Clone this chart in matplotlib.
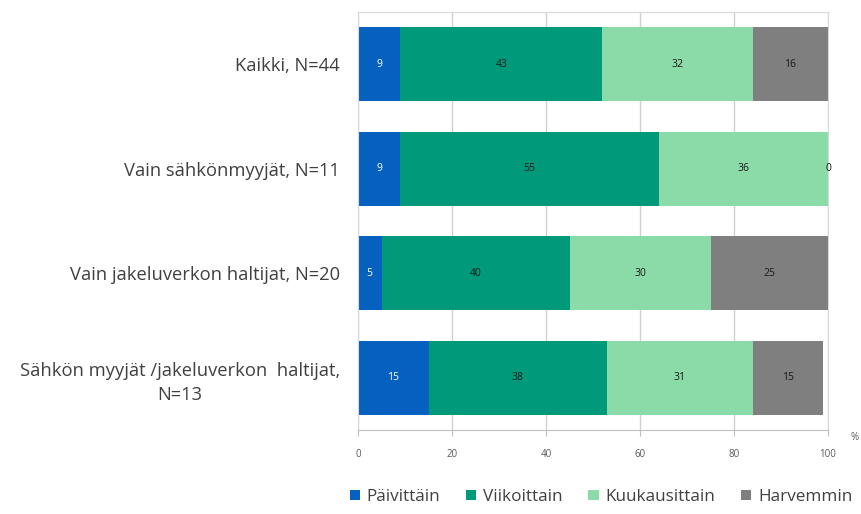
import matplotlib
matplotlib.use("Agg")
from matplotlib import pyplot as plt

plt.rcParams["font.family"] = ["Open Sans", "DejaVu Sans"]

categories = [
    "Kaikki, N=44",
    "Vain sähkönmyyjät, N=11",
    "Vain jakeluverkon haltijat, N=20",
    "Sähkön myyjät /jakeluverkon  haltijat,\nN=13",
]
series_names = ["Päivittäin", "Viikoittain", "Kuukausittain", "Harvemmin"]
paivittain = [9, 9, 5, 15]
viikoittain = [43, 55, 40, 38]
kuukausittain = [32, 36, 30, 31]
harvemmin = [16, 0, 25, 15]
xticks = [0, 20, 40, 60, 80, 100]

colors = ["#0560C0", "#009A7A", "#8BDBA8", "#7F7F7F"]
text_colors = ["white", "#1a1a1a", "#1a1a1a", "#1a1a1a"]

fig = plt.figure(figsize=(8.61, 5.14), dpi=100)
ax = fig.add_axes([358 / 861, 1 - 430 / 514, 470 / 861, 418 / 514])

ypos = list(range(len(categories)))
left = [0] * len(categories)
for vals, name, col, tcol in zip(
    [paivittain, viikoittain, kuukausittain, harvemmin], series_names, colors, text_colors
):
    bars = ax.barh(ypos, vals, left=left, height=0.71, color=col, label=name, zorder=2)
    for b, v in zip(bars, vals):
        ax.text(b.get_x() + b.get_width() / 2, b.get_y() + b.get_height() / 2, str(v),
                ha="center", va="center", fontsize=7.5, color=tcol, zorder=3)
    left = [a + b for a, b in zip(left, vals)]

ax.set_ylim(3.5, -0.5)
ax.set_xlim(0, 100)
ax.set_xticks(xticks)
ax.set_xticklabels([str(t) for t in xticks], fontsize=7, color="#595959")
ax.set_yticks(ypos)
ax.set_yticklabels(categories, fontsize=13.2, color="#404040", linespacing=1.45)
ax.tick_params(axis="y", length=0, pad=13)
ax.tick_params(axis="x", length=4, color="#BFBFBF", pad=10)
for lbl in ax.get_yticklabels():
    lbl.set_multialignment("center")
ax.grid(axis="x", color="#D0D0D0", linewidth=1, zorder=0)
for s in ax.spines.values():
    s.set_color("#D9D9D9")
ax.spines["bottom"].set_color("#BFBFBF")
fig.text(855 / 861, 1 - 437 / 514, "%", fontsize=7, color="#595959", ha="center", va="center")

fig.legend(loc="center", bbox_to_anchor=(601 / 861, 1 - 497 / 514), ncol=4, frameon=False,
           fontsize=12.3, handlelength=0.6, handleheight=0.6, handletextpad=0.4, columnspacing=1.5,
           labelcolor="#404040")

fig.savefig("out.png", dpi=100)
